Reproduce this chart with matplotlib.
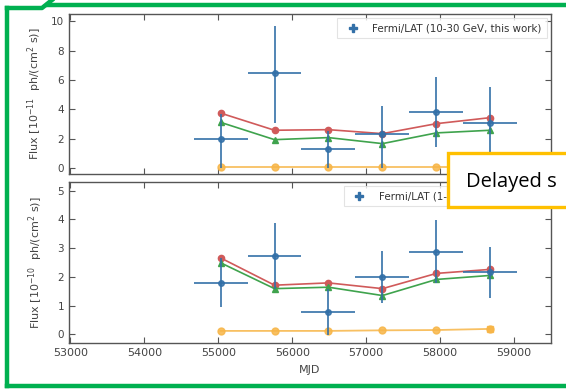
import numpy as np
import matplotlib.pyplot as plt
from matplotlib.lines import Line2D
from matplotlib.patches import Rectangle

# bin centres (MJD) and half widths
mjd = [55030, 55760, 56490, 57220, 57950, 58680]
mjd_err = [365, 365, 365, 365, 365, 365]

# 10-30 GeV panel
hi_flux = [2.0, 6.5, 1.3, 2.35, 3.8, 3.05]
hi_err_lo = [2.0, 3.4, 1.3, 2.35, 2.35, 2.5]
hi_err_hi = [1.7, 3.2, 1.2, 1.85, 2.4, 2.5]
hi_red = [3.75, 2.58, 2.62, 2.35, 3.03, 3.44]
hi_green = [3.12, 1.94, 2.08, 1.67, 2.4, 2.58]
hi_orange = [0.05, 0.05, 0.05, 0.05, 0.05, 0.05]

# 1-10 GeV panel
lo_flux = [1.8, 2.72, 0.78, 1.99, 2.88, 2.16]
lo_err = [0.85, 1.15, 0.8, 0.9, 1.1, 0.88]
lo_red = [2.66, 1.71, 1.79, 1.59, 2.12, 2.26]
lo_green = [2.49, 1.59, 1.64, 1.35, 1.91, 2.05]
lo_orange = [0.12, 0.12, 0.12, 0.14, 0.15, 0.19]

blue = '#3370a8'
red = '#d05a5a'
green = '#3fa34d'
orange = '#f7b547'
grey = '#555555'

fig = plt.figure(figsize=(5.66, 3.89), dpi=100)
ax1 = fig.add_axes([0.1219, 0.5527, 0.8516, 0.4113])
ax2 = fig.add_axes([0.1219, 0.1183, 0.8516, 0.4139])


def draw_panel(ax, flux, yerr, red_y, green_y, orange_y, label, last_square):
    ax.plot(mjd, orange_y, '-o', color=orange, ms=5, lw=1.3, alpha=0.85)
    if last_square:
        ax.plot(mjd[-1:], orange_y[-1:], 's', color=orange, ms=5, alpha=0.85)
    ax.plot(mjd, red_y, '-o', color=red, ms=4.5, lw=1.2)
    ax.plot(mjd, green_y, '-^', color=green, ms=4.5, lw=1.2)
    ax.errorbar(mjd, flux, xerr=mjd_err, yerr=yerr, fmt='o', ms=4,
                color=blue, ecolor=blue, elinewidth=1.4, capsize=0, alpha=0.85)
    h = Line2D([], [], marker='P', ls='none', color=blue, ms=5.5)
    leg = ax.legend([h], [label], loc='upper right', fontsize=7.4,
                    frameon=True, fancybox=False, borderpad=0.5,
                    borderaxespad=0.4, handletextpad=0.9, labelcolor='#333333')
    leg.get_frame().set_edgecolor('#dddddd')
    leg.get_frame().set_linewidth(0.8)
    ax.set_xlim(52980, 59500)
    ax.set_xticks(range(53000, 60000, 1000))
    ax.tick_params(direction='in', top=True, right=True, length=4,
                   labelsize=7.5, colors=grey, labelcolor='#444444')
    for s in ax.spines.values():
        s.set_color(grey)
        s.set_linewidth(1.0)


draw_panel(ax1, hi_flux, [hi_err_lo, hi_err_hi], hi_red, hi_green, hi_orange,
           'Fermi/LAT (10-30 GeV, this work)', False)
draw_panel(ax2, lo_flux, lo_err, lo_red, lo_green, lo_orange,
           'Fermi/LAT (1-10 GeV, this work)', True)

ax1.set_ylim(-0.4, 10.5)
ax1.set_yticks([0, 2, 4, 6, 8, 10])
ax1.tick_params(labelbottom=False)
ax1.set_ylabel('Flux [$10^{-11}$  ph/(cm$^2$ s)]', fontsize=8, color='#444444', labelpad=5)

ax2.set_ylim(-0.3, 5.3)
ax2.set_yticks([0, 1, 2, 3, 4, 5])
ax2.set_ylabel('Flux [$10^{-10}$  ph/(cm$^2$ s)]', fontsize=8, color='#444444', labelpad=9)
ax2.set_xlabel('MJD', fontsize=8, color='#444444', labelpad=5)
ax2.tick_params(axis='x', labelsize=8)

# yellow callout box
box = Rectangle((448 / 566, 1 - 207 / 389), 0.3, 54 / 389, transform=fig.transFigure,
                facecolor='white', edgecolor='#ffc000', lw=2.4, zorder=10)
fig.patches.append(box)
fig.text(466 / 566, 1 - 187 / 389, 'Delayed s', fontsize=14.5, family='Open Sans',
         color='black', zorder=11)

# green frame around the slide picture
gk = dict(color='#00b050', lw=3.2, transform=fig.transFigure, zorder=12)
fig.add_artist(Line2D([7 / 566, 7 / 566], [1 - 8 / 389, 1 - 386 / 389], **gk))
fig.add_artist(Line2D([7 / 566, 1.0], [1 - 386 / 389, 1 - 386 / 389], **gk))
fig.add_artist(Line2D([7 / 566, 42 / 566, 52 / 566], [1 - 8 / 389, 1 - 8 / 389, 1.0], **gk))
fig.add_artist(Line2D([48 / 566, 1.0], [1 - 5 / 389, 1 - 5 / 389], **gk))

fig.savefig('out.png', dpi=100)
